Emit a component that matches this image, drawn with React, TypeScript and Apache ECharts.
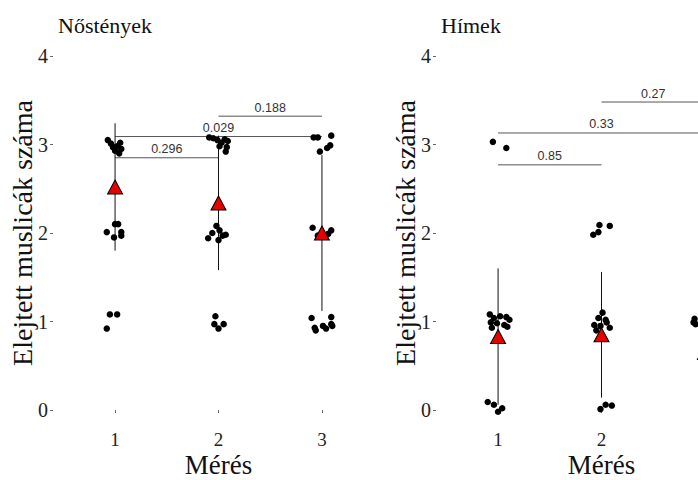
import React, { useEffect, useRef } from "react";
import * as echarts from "echarts";

// Measurement occasions and panel texts
const measurements = [1, 2, 3];
const panelTitles = ["Nőstények", "Hímek"];
const yTitle = "Elejtett muslicák száma";
const xTitle = "Mérés";

// Individual counts, jittered around their measurement index: [x, count]
const femalePoints: number[][] = [
  [0.93, 3.05], [0.96, 3.01], [0.98, 2.97], [1.02, 2.98], [1.05, 3.02], [1.06, 2.95], [1.04, 2.9], [1.0, 2.93],
  [1.0, 2.1], [1.03, 2.1], [0.92, 2.01], [0.99, 1.95], [1.06, 1.97], [1.06, 2.01],
  [0.95, 1.08], [1.02, 1.08], [0.92, 0.92],
  [1.91, 3.08], [1.95, 3.07], [1.99, 3.05], [2.03, 3.02], [2.06, 3.06], [2.09, 3.04], [2.08, 2.97], [2.07, 2.92], [2.01, 2.98],
  [1.98, 2.08], [2.01, 2.03], [1.94, 2.0], [1.9, 1.94], [2.04, 1.97], [2.0, 1.92], [2.07, 1.98],
  [1.97, 1.06], [1.96, 0.97], [2.0, 0.92], [2.05, 0.97],
  [2.92, 3.08], [2.96, 3.08], [3.09, 3.1], [2.98, 2.92], [3.05, 2.96], [3.08, 2.99],
  [2.91, 2.06], [3.09, 2.03], [3.06, 1.99], [2.96, 1.97], [3.01, 1.96],
  [2.9, 1.04], [3.09, 1.05], [2.93, 0.93], [2.94, 0.9], [3.01, 0.95], [3.04, 0.92], [3.09, 0.97], [3.1, 0.95],
];
const malePoints: number[][] = [
  [0.95, 3.03], [1.08, 2.96],
  [0.92, 1.08], [0.96, 1.04], [1.02, 1.06], [1.08, 1.05], [1.11, 1.02], [0.93, 0.99], [0.99, 0.98], [1.06, 0.96], [0.94, 0.93], [1.09, 0.94],
  [0.9, 0.09], [0.96, 0.06], [1.04, 0.02], [1.0, -0.02],
  [1.92, 1.98], [1.97, 2.01], [1.98, 2.09], [2.08, 2.08],
  [2.01, 1.1], [1.97, 1.04], [2.04, 1.02], [1.93, 0.96], [1.99, 0.95], [2.08, 0.93], [1.95, 0.9], [2.05, 0.99],
  [1.99, 0.01], [2.04, 0.06], [2.1, 0.05],
  [2.97, 2.04], [3.05, 1.98],
  [2.9, 1.03], [2.91, 0.97], [2.89, 0.99], [2.98, 1.05], [3.04, 0.96], [3.08, 1.02], [3.02, 0.93],
  [2.97, 0.05], [3.06, 0.02], [3.09, 0.08],
];

// Group means and standard deviations per measurement
const femaleMean = [2.52, 2.34, 2.0];
const femaleSd = [0.72, 0.76, 0.88];
const maleMean = [0.83, 0.85, 0.65];
const maleSd = [0.77, 0.71, 0.7];

// Pairwise comparisons: compared measurements, bracket height, p-value
const femalePairs = [[1, 2], [1, 3], [2, 3]];
const femaleBracketY = [2.85, 3.09, 3.32];
const femaleP = ["0.296", "0.029", "0.188"];
const malePairs = [[1, 2], [1, 3], [2, 3]];
const maleBracketY = [2.77, 3.13, 3.48];
const maleP = ["0.85", "0.33", "0.27"];

const SERIF = "Liberation Serif";
const SANS = "Liberation Sans";

function panelSeries(
  idx: number,
  points: number[][],
  mean: number[],
  sd: number[],
  pairs: number[][],
  bracketY: number[],
  pvals: string[]
): any[] {
  const bars = measurements.map((m, i) => [m, mean[i] - sd[i], mean[i] + sd[i]]);
  const brackets = pairs.map((p, i) => [p[0], p[1], bracketY[i], i]);
  return [
    {
      type: "custom",
      xAxisIndex: idx,
      yAxisIndex: idx,
      data: brackets,
      z: 1,
      renderItem: (params: any, api: any) => {
        const a = api.coord([api.value(0), api.value(2)]);
        const b = api.coord([api.value(1), api.value(2)]);
        const k = api.value(3);
        return {
          type: "group",
          children: [
            {
              type: "line",
              shape: { x1: a[0], y1: a[1], x2: b[0], y2: b[1] },
              style: { stroke: "#555", lineWidth: 1 },
            },
            {
              type: "text",
              x: (a[0] + b[0]) / 2,
              y: a[1] - 2,
              style: {
                text: pvals[k],
                align: "center",
                verticalAlign: "bottom",
                fontSize: 12.5,
                fontFamily: SANS,
                fill: "#333",
              },
            },
          ],
        };
      },
    },
    {
      type: "custom",
      xAxisIndex: idx,
      yAxisIndex: idx,
      data: bars,
      z: 2,
      renderItem: (params: any, api: any) => {
        const lo = api.coord([api.value(0), api.value(1)]);
        const hi = api.coord([api.value(0), api.value(2)]);
        return {
          type: "line",
          shape: { x1: lo[0], y1: lo[1], x2: hi[0], y2: hi[1] },
          style: { stroke: "#111", lineWidth: 1 },
        };
      },
    },
    {
      type: "scatter",
      xAxisIndex: idx,
      yAxisIndex: idx,
      data: points,
      symbol: "circle",
      symbolSize: 6.5,
      clip: false,
      z: 3,
      itemStyle: { color: "#000", opacity: 1 },
    },
    {
      type: "scatter",
      xAxisIndex: idx,
      yAxisIndex: idx,
      data: measurements.map((m, i) => [m, mean[i]]),
      symbol: "triangle",
      symbolSize: [15, 14],
      clip: false,
      z: 4,
      itemStyle: { color: "#e60000", borderColor: "#000", borderWidth: 1, opacity: 1 },
    },
  ];
}

export default function App() {
  const ref = useRef<HTMLDivElement>(null);

  useEffect(() => {
    if (!ref.current) return;
    const chart = echarts.init(ref.current, null, { renderer: "svg" });
    const gridLefts = [53, 436];
    // the right panel runs past the page edge, so its third tick label is left out
    const labelValues = [measurements, measurements.slice(0, 2)];
    const option: any = {
      animation: false,
      backgroundColor: "#fff",
      textStyle: { fontFamily: SERIF },
      title: panelTitles.map((t, i) => ({
        text: t,
        left: gridLefts[i],
        top: 9,
        textStyle: { fontFamily: SERIF, fontSize: 22, fontWeight: "normal", color: "#111" },
      })),
      grid: gridLefts.map((l) => ({
        left: l,
        top: 56,
        width: 331,
        height: 354,
        containLabel: false,
        outerBoundsMode: "none",
      })),
      xAxis: gridLefts.map((_, i) => ({
        type: "value",
        gridIndex: i,
        min: 0.4,
        max: 3.6,
        offset: 18,
        name: xTitle,
        nameLocation: "middle",
        nameGap: 25,
        nameMoveOverlap: false,
        nameTextStyle: { fontFamily: SERIF, fontSize: 27, lineHeight: 24, color: "#111" },
        axisLine: { show: false },
        splitLine: { show: false },
        axisTick: { show: true, length: 3, customValues: measurements, lineStyle: { color: "#666" } },
        axisLabel: {
          customValues: labelValues[i],
          margin: 4,
          fontFamily: SERIF,
          fontSize: 19,
          lineHeight: 14,
          color: "#222",
        },
      })),
      yAxis: gridLefts.map((_, i) => ({
        type: "value",
        gridIndex: i,
        min: 0,
        max: 4,
        interval: 1,
        name: yTitle,
        nameLocation: "middle",
        nameRotate: 90,
        nameGap: 17,
        nameMoveOverlap: false,
        nameTextStyle: { fontFamily: SERIF, fontSize: 28, color: "#111" },
        axisLine: { show: false },
        splitLine: { show: false },
        axisTick: { show: true, length: 3, lineStyle: { color: "#666" } },
        axisLabel: { margin: 5, fontFamily: SERIF, fontSize: 20, color: "#222" },
      })),
      series: [
        ...panelSeries(0, femalePoints, femaleMean, femaleSd, femalePairs, femaleBracketY, femaleP),
        ...panelSeries(1, malePoints, maleMean, maleSd, malePairs, maleBracketY, maleP),
      ],
    };
    chart.setOption(option);
    return () => chart.dispose();
  }, []);

  return (
    <div
      ref={ref}
      style={{ position: "fixed", left: 0, top: 0, width: 698, height: 480, background: "#fff" }}
    />
  );
}
